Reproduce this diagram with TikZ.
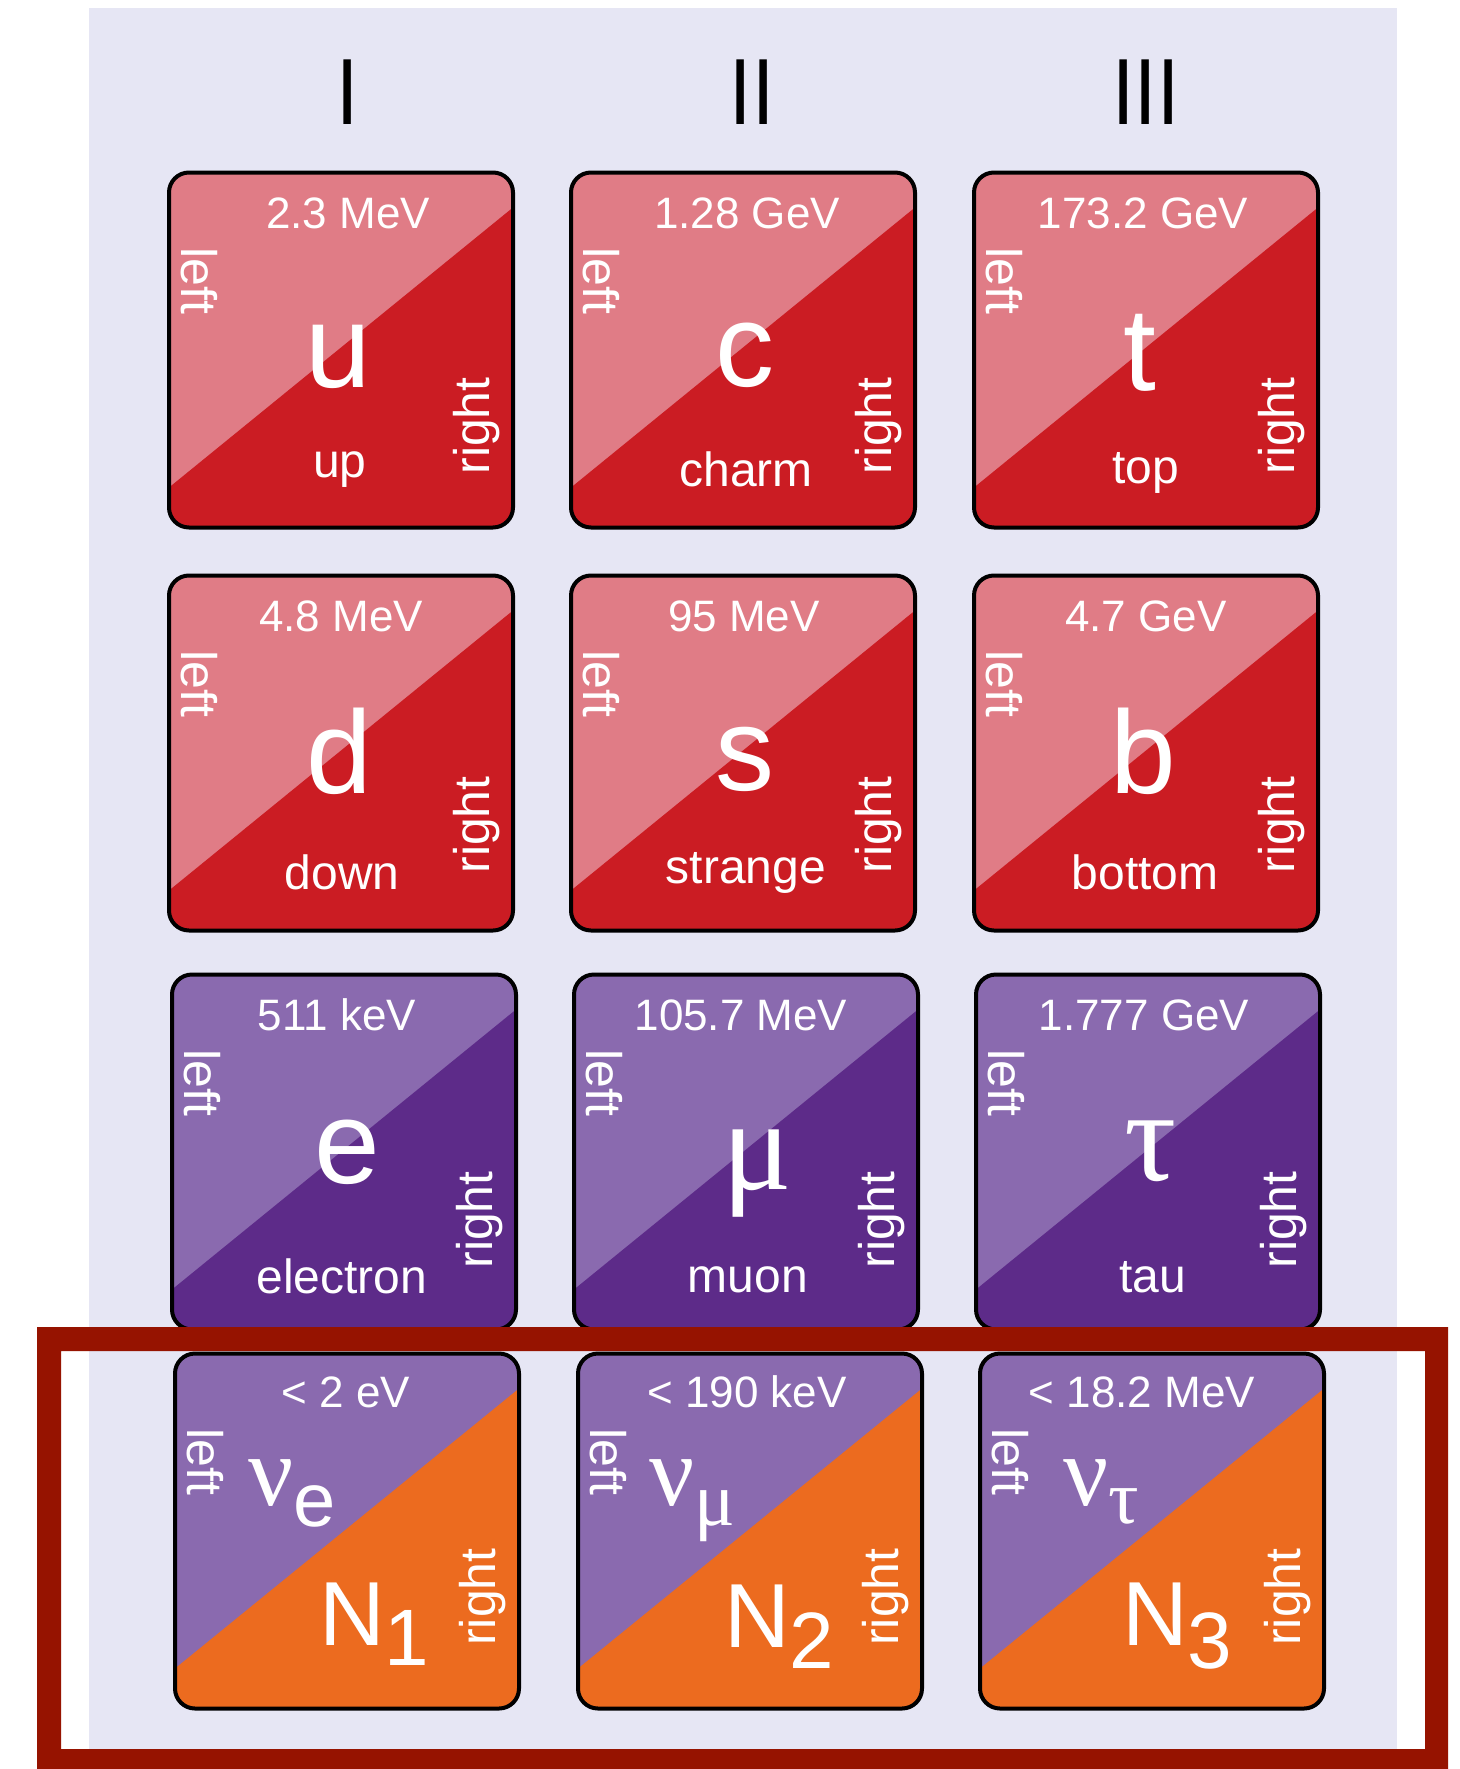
\documentclass[tikz,border=0pt]{standalone}
\usepackage{fontspec}
\setmainfont{Liberation Sans}
\newfontfamily\gk{Liberation Serif}
\usetikzlibrary{calc}
\definecolor{bgpanel}{HTML}{E6E6F4}
\definecolor{redL}{HTML}{E07C86}
\definecolor{redD}{HTML}{CB1C23}
\definecolor{purL}{HTML}{8A6AAF}
\definecolor{purD}{HTML}{5D2B89}
\definecolor{orng}{HTML}{EC6B1F}
\definecolor{framered}{HTML}{961300}
\tikzset{
 tilebox/.style={draw=black, line width=4pt, rounded corners=20pt, minimum width=344pt, minimum height=355pt, inner sep=0pt},
 lbl/.style={text=white, inner sep=0pt},
 mass/.style={lbl, font=\fontsize{44}{44}\selectfont, anchor=base},
 pname/.style={lbl, font=\fontsize{48}{48}\selectfont, anchor=base},
 side/.style={lbl, font=\fontsize{50}{50}\selectfont},
 sym/.style={lbl, font=\fontsize{118}{118}\selectfont, anchor=base},
 gsym/.style={lbl, font=\fontsize{130}{130}\selectfont\gk, anchor=base},
 nusym/.style={lbl, font=\fontsize{100}{100}\selectfont, anchor=base west},
 Nsym/.style={lbl, font=\fontsize{91}{91}\selectfont, anchor=base west},
 gen/.style={inner sep=0pt, font=\fontsize{94}{94}\selectfont, xscale=0.85, anchor=base},
}
% #1 name, #2 cx, #3 cy, #4 light colour, #5 dark colour, #6 vertical offset of "right"
\newcommand\ptile[6]{%
  \begin{scope}
    \clip[rounded corners=20pt] (#2-172,#3-177.5) rectangle (#2+172,#3+177.5);
    \fill[#4] (#2-172,#3-177.5) rectangle (#2+172,#3+177.5);
    \fill[#5] (#2-172,#3+137.5) -- (#2+172,#3-142.5) -- (#2+172,#3+177.5) -- (#2-172,#3+177.5) -- cycle;
  \end{scope}
  \node[tilebox] (#1) at (#2,#3) {};
  \node[side, rotate=-90] (#1L) at ($(#1)+(-142,-69)$) {left};
  \node[side, rotate=90] (#1R) at ($(#1)+(136,#6)$) {right};
}
\begin{document}
\begin{tikzpicture}[x=1pt,y=-1pt]
\useasboundingbox (0,0) rectangle (1459,1769);
\fill[white] (0,0) rectangle (1459,1769);
\fill[bgpanel] (89,8) rectangle (1397,1769);

% generation headers
\node[gen] (g1) at (348,124) {I};
\node[gen] (g2) at (752,124) {II};
\node[gen] (g3) at (1146,124) {III};

% row 1
\ptile{tu}{341}{350}{redL}{redD}{76}
\node[mass] (tuM) at ($(tu)+(7,-122)$) {2.3 MeV};
\node[sym] (tuS) at ($(tu)+(-3,37)$) {u};
\node[pname] (tuN) at ($(tu)+(-1,127)$) {up};
\ptile{tc}{743}{350}{redL}{redD}{76}
\node[mass] (tcM) at ($(tc)+(4,-122)$) {1.28 GeV};
\node[sym] (tcS) at ($(tc)+(2,36)$) {c};
\node[pname] (tcN) at ($(tc)+(3,136)$) {charm};
\ptile{tt}{1146}{350}{redL}{redD}{76}
\node[mass] (ttM) at ($(tt)+(-3,-122)$) {173.2 GeV};
\node[sym] (ttS) at ($(tt)+(-6,40)$) {t};
\node[pname] (ttN) at ($(tt)+(0,133)$) {top};

% row 2
\ptile{td}{341}{753}{redL}{redD}{72}
\node[mass] (tdM) at ($(td)+(0,-122)$) {4.8 MeV};
\node[sym] (tdS) at ($(td)+(-2,40)$) {d};
\node[pname] (tdN) at ($(td)+(1,136)$) {down};
\ptile{ts}{743}{753}{redL}{redD}{72}
\node[mass] (tsM) at ($(ts)+(1,-122)$) {95 MeV};
\node[sym] (tsS) at ($(ts)+(2,37)$) {s};
\node[pname] (tsN) at ($(ts)+(3,130)$) {strange};
\ptile{tb}{1146}{753}{redL}{redD}{72}
\node[mass] (tbM) at ($(tb)+(0,-122)$) {4.7 GeV};
\node[sym] (tbS) at ($(tb)+(-3,40)$) {b};
\node[pname] (tbN) at ($(tb)+(-1,136)$) {bottom};

% row 3
\ptile{te}{344}{1152}{purL}{purD}{68}
\node[mass] (teM) at ($(te)+(-7,-122)$) {511 keV};
\node[sym] (teS) at ($(te)+(3,31)$) {e};
\node[pname] (teN) at ($(te)+(-2,141)$) {electron};
\ptile{tm}{746}{1152}{purL}{purD}{68}
\node[mass] (tmM) at ($(tm)+(-5,-122)$) {105.7 MeV};
\node[gsym] (tmS) at ($(tm)+(11,37)$) {μ};
\node[pname] (tmN) at ($(tm)+(2,140)$) {muon};
\ptile{tta}{1148}{1152}{purL}{purD}{68}
\node[mass] (ttaM) at ($(tta)+(-4,-122)$) {1.777 GeV};
\node[gsym] (ttaS) at ($(tta)+(3,28)$) {τ};
\node[pname] (ttaN) at ($(tta)+(5,140)$) {tau};

% row 4
\ptile{n1}{347}{1531}{purL}{orng}{66}
\node[mass] (n1M) at ($(n1)+(-1,-124)$) {< 2 eV};
\node[nusym] (n1S) at ($(n1)+(-99,-26)$) {{\gk ν}\raisebox{-21pt}{\fontsize{76}{76}\selectfont e}};
\node[Nsym] (n1N) at ($(n1)+(-28,114)$) {N\raisebox{-20pt}{\fontsize{80}{80}\selectfont 1}};
\ptile{n2}{750}{1531}{purL}{orng}{66}
\node[mass] (n2M) at ($(n2)+(-3,-124)$) {< 190 keV};
\node[nusym] (n2S) at ($(n2)+(-101,-26)$) {{\gk ν\raisebox{-20pt}{\fontsize{76}{76}\selectfont μ}}};
\node[Nsym] (n2N) at ($(n2)+(-26,116)$) {N\raisebox{-21pt}{\fontsize{80}{80}\selectfont 2}};
\ptile{n3}{1152}{1531}{purL}{orng}{66}
\node[mass] (n3M) at ($(n3)+(-10,-124)$) {< 18.2 MeV};
\node[nusym] (n3S) at ($(n3)+(-89,-26)$) {{\gk ν\raisebox{-18pt}{\fontsize{76}{76}\selectfont τ}}};
\node[Nsym] (n3N) at ($(n3)+(-30,114)$) {N\raisebox{-23pt}{\fontsize{80}{80}\selectfont 3}};

% highlight frame
\fill[framered, even odd rule] (37,1327) rectangle (1448,1769) (61,1351) rectangle (1425,1749);
\end{tikzpicture}
\end{document}
